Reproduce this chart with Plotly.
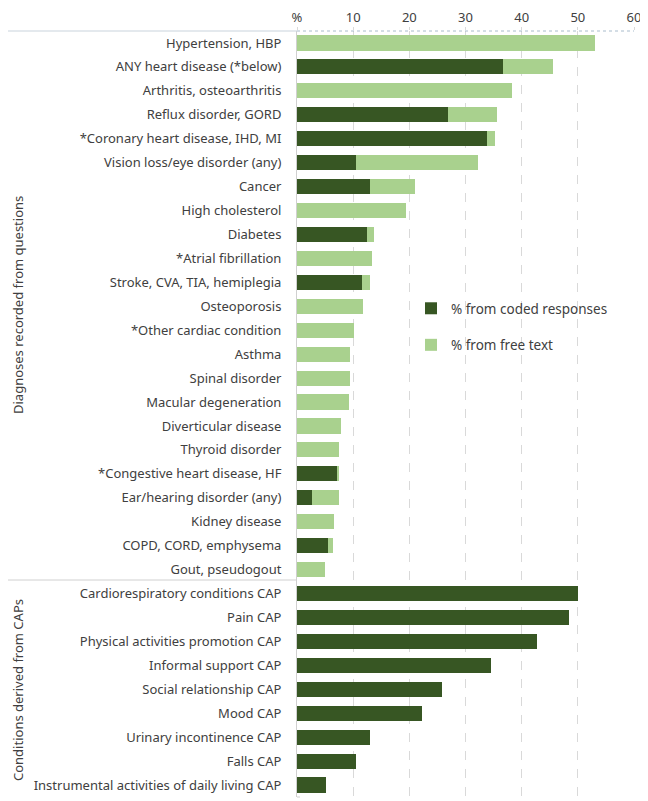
import plotly.graph_objects as go

categories = [
    "Hypertension, HBP", "ANY heart disease (*below)", "Arthritis, osteoarthritis",
    "Reflux disorder, GORD", "*Coronary heart disease, IHD, MI", "Vision loss/eye disorder (any)",
    "Cancer", "High cholesterol", "Diabetes", "*Atrial fibrillation",
    "Stroke, CVA, TIA, hemiplegia", "Osteoporosis", "*Other cardiac condition", "Asthma",
    "Spinal disorder", "Macular degeneration", "Diverticular disease", "Thyroid disorder",
    "*Congestive heart disease, HF", "Ear/hearing disorder (any)", "Kidney disease",
    "COPD, CORD, emphysema", "Gout, pseudogout",
    "Cardiorespiratory conditions CAP", "Pain CAP", "Physical activities promotion CAP",
    "Informal support CAP", "Social relationship CAP", "Mood CAP",
    "Urinary incontinence CAP", "Falls CAP", "Instrumental activities of daily living CAP",
]
coded = [0, 36.6, 0, 26.9, 33.8, 10.5, 13.0, 0, 12.5, 0, 11.6, 0, 0, 0, 0, 0, 0, 0,
         7.2, 2.7, 0, 5.6, 0,
         50.0, 48.4, 42.8, 34.5, 25.8, 22.2, 13.0, 10.5, 5.2]
free_text = [53.0, 8.9, 38.2, 8.7, 1.4, 21.7, 8.0, 19.4, 1.2, 13.4, 1.4, 11.8, 10.2, 9.5,
             9.5, 9.3, 7.9, 7.5, 0.3, 4.8, 6.6, 0.8, 5.0,
             0, 0, 0, 0, 0, 0, 0, 0, 0]
tick_vals = [0, 10, 20, 30, 40, 50, 60]
tick_text = ["%", "10", "20", "30", "40", "50", "60"]

DARK = "#375623"
LIGHT = "#a9d18e"
FONT = "Noto Sans"
TXT = "#404040"

# page has an 8px body margin; work in page coordinates and convert
OFF = 8
W, H = 640, 793
L = 297 - OFF
R = W - (634 - OFF)
T = 31 - OFF
B = H - (797 - OFF)
pw = W - L - R
ph = H - T - B


def px_x(p):
    return (p - OFF - L) / pw


def px_y(p):
    return 1 - (p - OFF - T) / ph


fig = go.Figure()
fig.add_trace(go.Bar(y=categories, x=coded, orientation="h", name="% from coded responses",
                     marker=dict(color=DARK, line=dict(width=0)), width=0.63,
                     legendgroup="a"))
fig.add_trace(go.Bar(y=categories, x=free_text, orientation="h", name="% from free text",
                     marker=dict(color=LIGHT, line=dict(width=0)), width=0.63,
                     legendgroup="b"))

fig.update_layout(
    width=W, height=H,
    margin=dict(l=L, r=R, t=T, b=B, pad=0, autoexpand=False),
    barmode="stack",
    plot_bgcolor="white", paper_bgcolor="white",
    font=dict(family=FONT, color=TXT, size=13),
    legend=dict(x=px_x(411), y=px_y(293), xanchor="left", yanchor="top",
                font=dict(size=13.5, color=TXT, family=FONT), tracegroupgap=16,
                bgcolor="rgba(0,0,0,0)", itemwidth=30),
    xaxis=dict(side="top", range=[0, 60], tickvals=tick_vals, ticktext=tick_text,
               showgrid=True, gridcolor="#d9d9d9", griddash="dash", gridwidth=1,
               zeroline=False, showline=False, ticks="outside", ticklen=3,
               tickcolor="#d9d9d9", ticklabelstandoff=0,
               tickfont=dict(size=13, color=TXT), fixedrange=True, automargin=False),
    yaxis=dict(type="category", autorange="reversed", showgrid=False, zeroline=False,
               showline=True, linecolor="#d0d0d0", linewidth=1, ticks="",
               ticklabelstandoff=12, tickfont=dict(size=13, color=TXT), fixedrange=True,
               automargin=False),
    bargap=0.37,
)

# top border line across the label area and plot area
fig.add_shape(type="line", xref="paper", yref="paper", x0=px_x(0), x1=0, y0=1, y1=1,
              line=dict(color="#c9d3dc", width=1))
fig.add_shape(type="line", xref="paper", yref="paper", x0=0, x1=1, y0=1, y1=1,
              line=dict(color="#a9bccc", width=1, dash="dot"))
# group separator and bottom edge
fig.add_shape(type="line", xref="paper", yref="paper", x0=px_x(0), x1=0,
              y0=px_y(580), y1=px_y(580), line=dict(color="#d0d0d0", width=1))
fig.add_shape(type="line", xref="paper", yref="paper", x0=0, x1=px_x(300),
              y0=0, y1=0, line=dict(color="#d0d0d0", width=1))

fig.add_annotation(text="Diagnoses recorded from questions", textangle=-90, xref="paper",
                   yref="paper", x=px_x(18), y=px_y(305), showarrow=False,
                   xanchor="center", yanchor="middle",
                   font=dict(size=13, color=TXT, family=FONT))
fig.add_annotation(text="Conditions derived from CAPs", textangle=-90, xref="paper",
                   yref="paper", x=px_x(18), y=px_y(690), showarrow=False,
                   xanchor="center", yanchor="middle",
                   font=dict(size=13, color=TXT, family=FONT))

fig.write_html("out.html")
